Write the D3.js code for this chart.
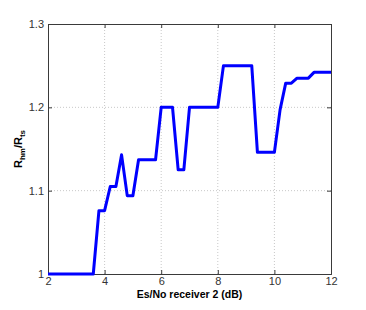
<!DOCTYPE html>
<html>
<head>
<meta charset="utf-8">
<script src="https://cdn.jsdelivr.net/npm/d3@7"></script>
<style>
  body { margin: 0; background: #fff; }
  svg { display: block; font-family: "Liberation Sans", Arial, sans-serif; }
</style>
</head>
<body>
<svg id="chart" width="366" height="310"></svg>
<script>
// Es/No values (dB) and ratio R_hm / R_ts
var snr = [2, 2.2, 2.4, 2.6, 2.8, 3, 3.2, 3.4, 3.6, 3.8, 4, 4.2, 4.4, 4.6, 4.8, 5, 5.2, 5.4, 5.6, 5.8,
           6, 6.2, 6.4, 6.6, 6.8, 7, 7.2, 7.4, 7.6, 7.8, 8, 8.2, 8.4, 8.6, 8.8, 9, 9.2, 9.4, 9.6, 9.8,
           10, 10.2, 10.4, 10.6, 10.8, 11, 11.2, 11.4, 11.6, 11.8, 12];
var ratio = [1, 1, 1, 1, 1, 1, 1, 1, 1, 1.076, 1.076, 1.105, 1.105, 1.143, 1.094, 1.094, 1.137, 1.137, 1.137, 1.137,
             1.2, 1.2, 1.2, 1.125, 1.125, 1.2, 1.2, 1.2, 1.2, 1.2, 1.2, 1.25, 1.25, 1.25, 1.25, 1.25, 1.25, 1.146, 1.146, 1.146,
             1.146, 1.197, 1.229, 1.229, 1.235, 1.235, 1.235, 1.242, 1.242, 1.242, 1.242];
var xTicks = [2, 4, 6, 8, 10, 12];
var yTicks = [1, 1.1, 1.2, 1.3];

var svg = d3.select("#chart"),
    margin = {top: 24, right: 35, bottom: 36, left: 48},
    width = 331 - margin.left,
    height = 274 - margin.top,
    g = svg.append("g").attr("transform", "translate(" + margin.left + "," + margin.top + ")");

var x = d3.scaleLinear().domain([2, 12]).range([0, width]),
    y = d3.scaleLinear().domain([1, 1.3]).range([height, 0]);

var axisColor = "#3a3a3a";

// grid
g.append("g").selectAll("line")
    .data(xTicks.slice(1, -1))
    .enter().append("line")
    .attr("x1", function(d) { return x(d); })
    .attr("x2", function(d) { return x(d); })
    .attr("y1", 0).attr("y2", height)
    .attr("stroke", "#c8c8c8").attr("stroke-dasharray", "1,2");
g.append("g").selectAll("line")
    .data(yTicks.slice(1, -1))
    .enter().append("line")
    .attr("y1", function(d) { return y(d); })
    .attr("y2", function(d) { return y(d); })
    .attr("x1", 0).attr("x2", width)
    .attr("stroke", "#c8c8c8").attr("stroke-dasharray", "1,2");

// axes
var fmt = function(d) { return d3.format("")(+d.toFixed(1)); };
var xAxis = g.append("g")
    .attr("transform", "translate(0," + height + ")")
    .call(d3.axisBottom(x).tickValues(xTicks).tickSize(-4).tickPadding(3).tickFormat(fmt));
var yAxis = g.append("g")
    .call(d3.axisLeft(y).tickValues(yTicks).tickSize(-4).tickPadding(4).tickFormat(fmt));
var xTop = g.append("g")
    .call(d3.axisTop(x).tickValues(xTicks).tickSize(-4).tickFormat(""));
var yRight = g.append("g")
    .attr("transform", "translate(" + width + ",0)")
    .call(d3.axisRight(y).tickValues(yTicks).tickSize(-4).tickFormat(""));

[xAxis, yAxis, xTop, yRight].forEach(function(a) {
    a.select(".domain").attr("stroke", axisColor);
    a.selectAll(".tick line").attr("stroke", axisColor);
    a.selectAll("text").attr("fill", "#333").style("font-size", "11px");
});

// line
var line = d3.line()
    .x(function(d, i) { return x(snr[i]); })
    .y(function(d) { return y(d); });

g.append("path")
    .datum(ratio)
    .attr("d", line)
    .attr("fill", "none")
    .attr("stroke", "#0000ff")
    .attr("stroke-width", 3)
    .attr("stroke-linejoin", "round");

// labels
svg.append("text")
    .attr("x", margin.left + width / 2)
    .attr("y", 298)
    .attr("text-anchor", "middle")
    .style("font-size", "10.5px")
    .style("font-weight", "bold")
    .text("Es/No receiver 2 (dB)");

var yl = svg.append("text")
    .attr("transform", "translate(22," + (margin.top + height / 2) + ") rotate(-90)")
    .attr("text-anchor", "middle")
    .style("font-size", "11px")
    .style("font-weight", "bold");
yl.append("tspan").text("R");
yl.append("tspan").attr("dy", 3).style("font-size", "8px").text("hm");
yl.append("tspan").attr("dy", -3).text("/R");
yl.append("tspan").attr("dy", 3).style("font-size", "8px").text("ts");
</script>
</body>
</html>
